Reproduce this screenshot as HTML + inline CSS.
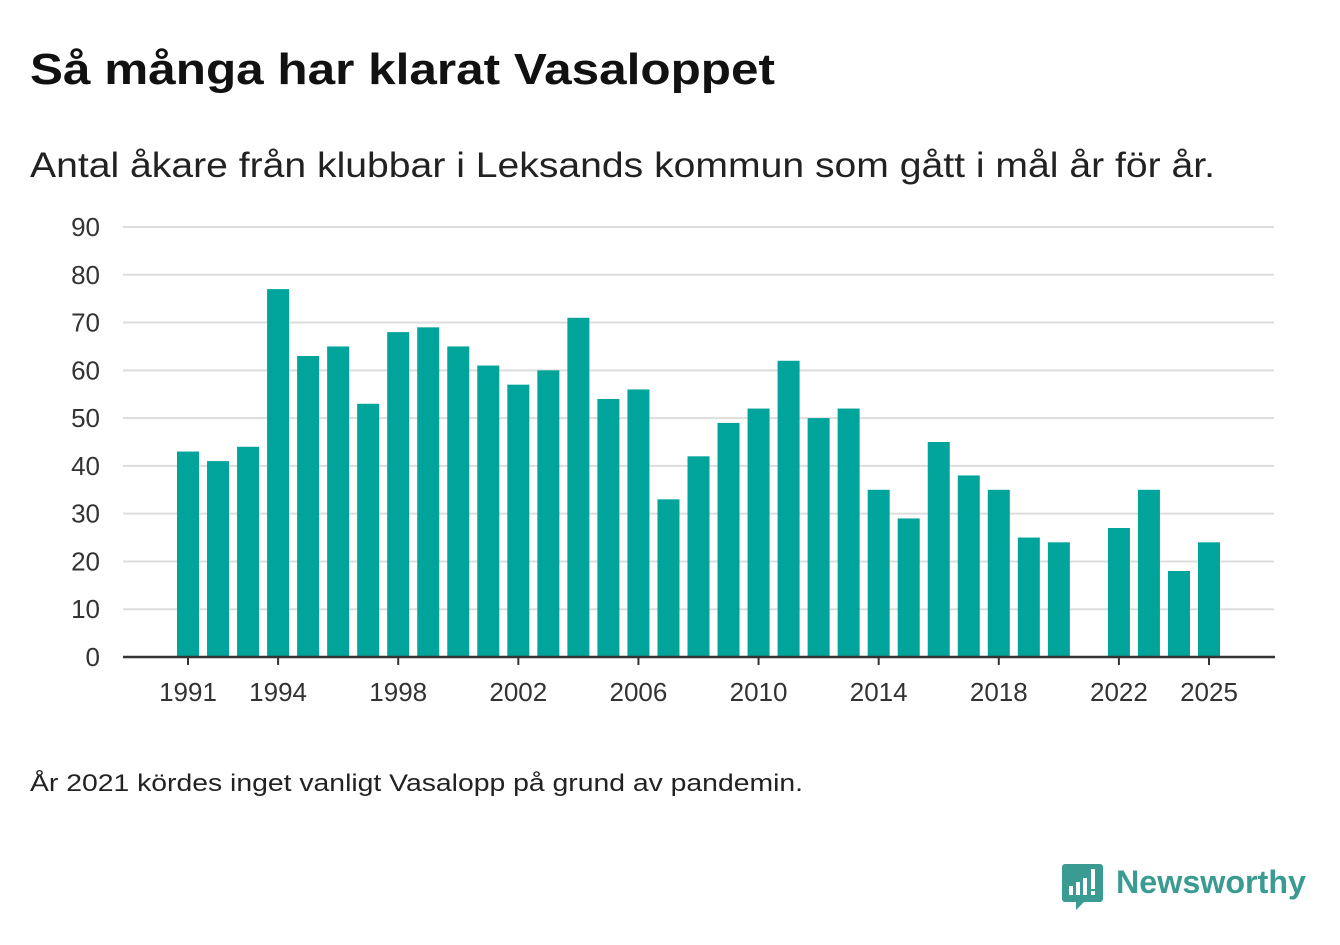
<!DOCTYPE html>
<html><head><meta charset="utf-8"><style>
body{margin:0;width:1340px;height:940px;background:#fff;font-family:"Liberation Sans",sans-serif;color:#1a1a1a;overflow:hidden}
</style></head><body>
<svg width="1340" height="940" xmlns="http://www.w3.org/2000/svg">
<text x="30" y="84" font-size="44" font-weight="bold" fill="#111" textLength="745" lengthAdjust="spacingAndGlyphs">Så många har klarat Vasaloppet</text>
<text x="30" y="177" font-size="35" fill="#222" textLength="1185" lengthAdjust="spacingAndGlyphs">Antal åkare från klubbar i Leksands kommun som gått i mål år för år.</text>
<g id="grid"></g><g id="bars"></g><g id="axes"></g>
<text x="30" y="791" font-size="24" fill="#222" textLength="773" lengthAdjust="spacingAndGlyphs">År 2021 kördes inget vanligt Vasalopp på grund av pandemin.</text>
<g>
<path d="M1065 864h35a3 3 0 0 1 3 3v32a3 3 0 0 1-3 3h-16l-8 8v-8h-11a3 3 0 0 1-3-3v-32a3 3 0 0 1 3-3z" fill="#3a9b92"/>
<rect x="1069" y="886" width="4" height="9" fill="#fff"/><rect x="1076" y="882" width="4" height="13" fill="#fff"/><rect x="1083" y="878" width="4" height="17" fill="#fff"/><rect x="1091" y="869" width="4" height="20" fill="#fff"/><rect x="1091" y="891" width="4" height="4" fill="#fff"/>
<text x="1116" y="893" font-size="32" font-weight="bold" fill="#3a9b92" textLength="190" lengthAdjust="spacingAndGlyphs">Newsworthy</text>
</g>
</svg>
<script>
const years=[1991,1992,1993,1994,1995,1996,1997,1998,1999,2000,2001,2002,2003,2004,2005,2006,2007,2008,2009,2010,2011,2012,2013,2014,2015,2016,2017,2018,2019,2020,2021,2022,2023,2024,2025];
const values=[43,41,44,77,63,65,53,68,69,65,61,57,60,71,54,56,33,42,49,52,62,50,52,35,29,45,38,35,25,24,null,27,35,18,24];
const yTicks=[0,10,20,30,40,50,60,70,80,90];
const xTickLabels=[1991,1994,1998,2002,2006,2010,2014,2018,2022,2025];
const NS="http://www.w3.org/2000/svg";
const y0=657,pxPerUnit=430/90,x0=188,step=(1209-188)/34,bw=22;
const y=v=>y0-v*pxPerUnit, x=yr=>x0+(yr-1991)*step;
function mk(t,a,p){const e=document.createElementNS(NS,t);for(const k in a)e.setAttribute(k,a[k]);p.appendChild(e);return e;}
const grid=document.getElementById('grid'),bars=document.getElementById('bars'),axes=document.getElementById('axes');
yTicks.forEach(t=>{
 if(t>0){const l=mk('line',{x1:123,x2:1274,y1:y(t),y2:y(t),stroke:'#ddd','stroke-width':2},grid);
 
 }
 const tx=mk('text',{x:100,y:y(t)+9,'font-size':26,'text-anchor':'end',fill:'#333'},axes);tx.textContent=t;
 
 
});
years.forEach((yr,i)=>{const v=values[i];if(v==null)return;
 const r=mk('rect',{x:x(yr)-bw/2,y:y(v),width:bw,height:y0-y(v),fill:'#00a49a'},bars);
 
 });
const ax=mk('line',{x1:123,x2:1275,y1:y0,y2:y0,stroke:'#333','stroke-width':2.5},axes);


xTickLabels.forEach(yr=>{
 const tk=mk('line',{x1:x(yr),x2:x(yr),y1:y0,y2:y0+8,stroke:'#333','stroke-width':2},axes);
 
 
 const tx=mk('text',{x:x(yr),y:701,'font-size':26,'text-anchor':'middle',fill:'#333'},axes);tx.textContent=yr;
 
 
});
</script>
</body></html>
